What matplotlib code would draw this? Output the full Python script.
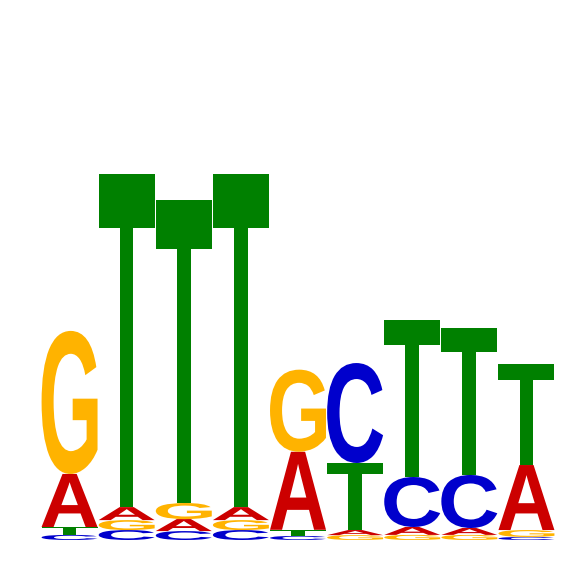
import matplotlib
matplotlib.use("Agg")
import matplotlib.pyplot as plt
from matplotlib.textpath import TextPath
from matplotlib.patches import PathPatch
from matplotlib.font_manager import FontProperties
from matplotlib.transforms import Affine2D
import numpy as np

# letter heights (bits) per position, columns A C G T
letters = ['A', 'C', 'G', 'T']
A = [0.208, 0.051, 0.047, 0.051, 0.306, 0.020, 0.031, 0.027, 0.255]
C = [0.020, 0.039, 0.035, 0.039, 0.016, 0.392, 0.196, 0.208, 0.012]
G = [0.561, 0.039, 0.063, 0.039, 0.322, 0.019, 0.020, 0.020, 0.027]
T = [0.031, 1.306, 1.188, 1.306, 0.024, 0.263, 0.616, 0.576, 0.396]

colors = {'A': '#cc0000', 'C': '#0000cc', 'G': '#ffb300', 'T': '#008000'}

fp = FontProperties(family='Liberation Sans', weight='bold')

fig = plt.figure(figsize=(5.66, 5.66), dpi=100)
ax = fig.add_axes([41/566, 26/566, 514/566, 510/566])
ax.set_xlim(0, 9)
ax.set_ylim(0, 2)
ax.axis('off')


def draw_letter(ch, x, y, w, h):
    tp = TextPath((0, 0), ch, size=1, prop=fp)
    bb = tp.get_extents()
    tr = (Affine2D()
          .translate(-bb.x0, -bb.y0)
          .scale(w / bb.width, h / bb.height)
          .translate(x, y))
    path = tr.transform_path(tp)
    ax.add_patch(PathPatch(path, facecolor=colors[ch], edgecolor='none'))


mat = np.array([A, C, G, T])
for i in range(mat.shape[1]):
    col = mat[:, i]
    order = np.argsort(col, kind='stable')
    y = 0.0
    for k in order:
        h = col[k]
        draw_letter(letters[k], i + 0.01, y, 0.98, h)
        y += h

fig.savefig('out.png', dpi=100)
